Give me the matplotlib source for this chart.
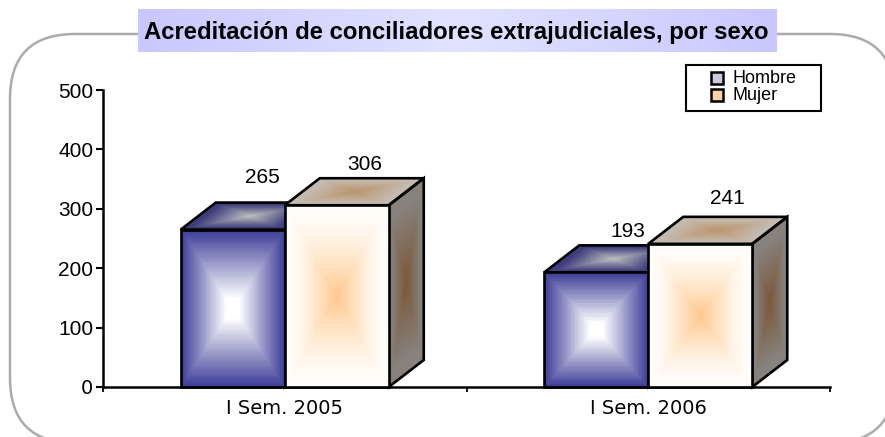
#!/usr/bin/env python3
"""Acreditacion de conciliadores extrajudiciales, por sexo: fake 3D bars with pyramid gradients."""
import matplotlib
matplotlib.use('Agg')
import matplotlib.pyplot as plt
import numpy as np
from matplotlib.patches import FancyBboxPatch, Polygon, Rectangle

# data
periods = ['I Sem. 2005', 'I Sem. 2006']
series_names = ['Hombre', 'Mujer']
hombre = [265, 193]
mujer = [306, 241]
y_ticks = [0, 100, 200, 300, 400, 500]

W, H = 885, 437
# (edge colour, centre colour) of every face
front_cols = [((58, 58, 150), (255, 255, 255)), ((255, 253, 250), (255, 200, 140))]
top_cols = [((62, 62, 125), (190, 190, 190)), ((196, 186, 176), (188, 148, 108))]
side_cols = [((95, 95, 110), (110, 110, 120)), ((135, 130, 125), (122, 88, 58))]

plt.rcParams['font.family'] = ['Liberation Sans', 'DejaVu Sans']
plt.rcParams['font.size'] = 15


def px_x(x):
    return x / W


def px_y(y):
    return 1 - y / H


def face(ax, p0, e1, e2, cols, zorder, ramp):
    """Parallelogram from p0 along e1 and e2, pyramid gradient from edge to centre."""
    n = 70
    u = np.linspace(0, 1, n + 1)
    uu, vv = np.meshgrid(u, u)
    X = p0[0] + uu * e1[0] + vv * e2[0]
    Y = p0[1] + uu * e1[1] + vv * e2[1]
    uc = (u[:-1] + u[1:]) / 2
    cu, cv = np.meshgrid(uc, uc)
    t = ramp(np.maximum(np.abs(cu - 0.5), np.abs(cv - 0.5)) * 2)
    edge = np.array(cols[0]) / 255
    centre = np.array(cols[1]) / 255
    rgb = centre + (edge - centre) * t[..., None]
    ax.pcolormesh(X, Y, rgb, shading='flat', zorder=zorder, linewidth=0, antialiased=False)
    corners = [p0, (p0[0] + e1[0], p0[1] + e1[1]),
               (p0[0] + e1[0] + e2[0], p0[1] + e1[1] + e2[1]), (p0[0] + e2[0], p0[1] + e2[1])]
    ax.add_patch(Polygon(corners, closed=True, fill=False, edgecolor='black', lw=1.9,
                         joinstyle='miter', zorder=zorder + 0.1, clip_on=False))


def ramp_plain(t):
    return np.clip(t / 0.85, 0, 1)


def ramp_hombre(t):
    return np.clip((t - 0.12) / 0.88, 0, 1)


def ramp_mujer(t):
    return 1 - (1 - np.clip(t / 0.92, 0, 1)) ** 1.4


def bar3d(ax, x, width, value, idx, zorder):
    dx, dy = width * 35 / 104, 27 / 0.594
    face(ax, (x + width, 0), (dx, dy), (0, value), side_cols[idx], zorder, ramp_plain)
    face(ax, (x, value), (width, 0), (dx, dy), top_cols[idx], zorder, ramp_plain)
    front_ramp = ramp_hombre if idx == 0 else ramp_mujer
    face(ax, (x, 0), (width, 0), (0, value), front_cols[idx], zorder + 0.2, front_ramp)


fig = plt.figure(figsize=(W / 100, H / 100), dpi=100)

# rounded frame, runs off the right and bottom of the picture
bg = fig.add_axes([0, 0, 1, 1], zorder=0)
bg.set_xlim(0, W)
bg.set_ylim(H, 0)
bg.axis('off')
bg.add_patch(FancyBboxPatch((10 + 65, 34 + 65), 885 - 130, 409 - 130,
                            boxstyle='round,pad=65,rounding_size=65', fc='white', ec='#ababab', lw=1.8))

ax = fig.add_axes([px_x(103), px_y(387), px_x(830 - 103), 297 / H], zorder=1)
ax.patch.set_alpha(0)
ax.set_xlim(-0.5, 1.5)
ax.set_ylim(0, 500)
for s in ['top', 'right']:
    ax.spines[s].set_visible(False)
for s in ['left', 'bottom']:
    ax.spines[s].set_linewidth(1.8)

bar_w = 104 / 363.5
for i in range(len(periods)):
    bar3d(ax, i - bar_w, bar_w, hombre[i], 0, 3)
    bar3d(ax, i, bar_w, mujer[i], 1, 4)

ax.set_yticks(y_ticks)
ax.tick_params(axis='y', length=5, width=1.5, pad=2, labelsize=15)
ax.get_yticklabels()[0].set_family('DejaVu Sans')
ax.get_yticklabels()[0].set_fontsize(14)
ax.set_xticks([-0.5, 0.5, 1.5])
ax.set_xticklabels([])
ax.set_xticks([0, 1], minor=True)
ax.set_xticklabels(periods, minor=True, family='DejaVu Sans', fontsize=14)
ax.tick_params(axis='x', which='major', length=3.5, width=1.3, direction='out')
ax.tick_params(axis='x', which='minor', length=0, pad=9)

# value labels
ax.text(-0.0626, 265 + 88.5, '265', ha='center', va='center', fontsize=15, zorder=9)
ax.text(0.2208, 306 + 69, '306', ha='center', va='center', fontsize=15, zorder=9)
ax.text(0.945, 193 + 68, '193', ha='center', va='center', fontsize=15, zorder=9)
ax.text(1.217, 241 + 77, '241', ha='center', va='center', fontsize=15, zorder=9)

# title band
top = fig.add_axes([0, 0, 1, 1], zorder=2)
top.patch.set_alpha(0)
top.axis('off')
shade = np.interp(np.linspace(0, 1, 200), [0, 0.5, 1], [0, 1, 0])[None, :, None]
band = (np.array([200, 200, 255]) + (np.array([226, 226, 255]) - np.array([200, 200, 255])) * shade) / 255
top.imshow(band, extent=(138, 777, 52, 9), aspect='auto', zorder=1)
top.set_xlim(0, W)
top.set_ylim(H, 0)
top.text(456.5, 32, 'Acreditación de conciliadores extrajudiciales, por sexo', ha='center',
         va='center', fontweight='bold', fontsize=17.2, zorder=2)

# legend
top.add_patch(Rectangle((686, 65), 135, 46, fc='white', ec='black', lw=1.5, zorder=3))
swatches = [('#c9c9e2', 72), ('#ffd2a6', 89)]
for name, (col, y) in zip(series_names, swatches):
    top.add_patch(Rectangle((711, y), 12, 12, fc=col, ec='black', lw=1.8, zorder=4))
    top.text(733, y + 6.5, name, ha='left', va='center', fontsize=13, zorder=4)

fig.savefig('out.png', dpi=100)
